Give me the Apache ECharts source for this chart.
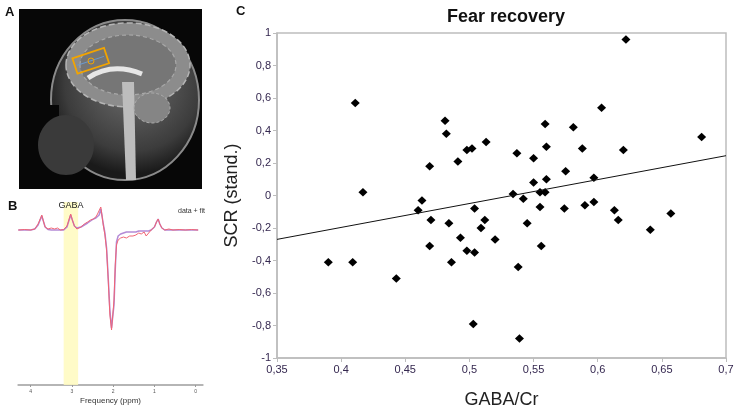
<!DOCTYPE html>
<html>
<head>
<meta charset="utf-8">
<script src="https://cdn.jsdelivr.net/npm/echarts@6/dist/echarts.min.js"></script>
<style>
  html, body { margin: 0; padding: 0; background: #fff; }
  #main { width: 737px; height: 410px; }
</style>
</head>
<body>
<div id="main"></div>
<script>
// panel C: GABA/Cr vs SCR
var gabaX = [0.622, 0.411, 0.603, 0.481, 0.559, 0.581, 0.482, 0.681, 0.513, 0.560,
             0.498, 0.502, 0.588, 0.620, 0.537, 0.550, 0.491, 0.469, 0.575, 0.597,
             0.560, 0.550, 0.417, 0.534, 0.555, 0.559, 0.463, 0.542, 0.460, 0.504,
             0.555, 0.574, 0.590, 0.597, 0.613, 0.657, 0.470, 0.512, 0.616, 0.484,
             0.545, 0.509, 0.641, 0.493, 0.520, 0.469, 0.556, 0.498, 0.504, 0.390,
             0.409, 0.486, 0.538, 0.443, 0.503, 0.539];
var scrY = [0.96, 0.57, 0.54, 0.46, 0.44, 0.42, 0.38, 0.36, 0.33, 0.30,
            0.28, 0.29, 0.29, 0.28, 0.26, 0.23, 0.21, 0.18, 0.15, 0.11,
            0.10, 0.08, 0.02, 0.01, 0.02, 0.02, -0.03, -0.02, -0.09, -0.08,
            -0.07, -0.08, -0.06, -0.04, -0.09, -0.11, -0.15, -0.15, -0.15, -0.17,
            -0.17, -0.20, -0.21, -0.26, -0.27, -0.31, -0.31, -0.34, -0.35, -0.41,
            -0.41, -0.41, -0.44, -0.51, -0.79, -0.88];
// fitted line endpoints
var trendX = [0.35, 0.7];
var trendY = [-0.27, 0.245];

// panel B: spectrum (ppm, data, fit)
var ppm = [4.30, 4.15, 4.00, 3.90, 3.82, 3.78, 3.73, 3.70, 3.65, 3.58,
           3.50, 3.42, 3.35, 3.28, 3.20, 3.12, 3.06, 3.03, 2.99, 2.94,
           2.88, 2.84, 2.78, 2.70, 2.62, 2.55, 2.48, 2.42, 2.38, 2.34,
           2.30, 2.27, 2.24, 2.20, 2.16, 2.12, 2.08, 2.04, 2.01, 1.98,
           1.95, 1.92, 1.88, 1.82, 1.75, 1.68, 1.60, 1.52, 1.45, 1.38,
           1.32, 1.25, 1.20, 1.14, 1.08, 1.00, 0.95, 0.91, 0.87, 0.82,
           0.75, 0.65, 0.55, 0.40, 0.25, 0.10, -0.06];
var specData = [0, 0.5, 0, 1, 6, 10, 15, 10, 3, 1,
                2, 1, 2, 0, 0.5, 4, 12, 16, 10, 4,
                1, 1, 3, 6, 8, 10, 11, 13, 16, 14,
                23, 14, 5, -5, -20, -50, -85, -100, -101, -70,
                -35, -15, -10, -8, -7, -8, -6, -6, -5, -3,
                -4, -2, -6, -3, 0, 3, 8, 11, 6, 2,
                0, 1, 0, 0.5, 0, 0.5, 0];
var specFit = [0, 0, 0, 1, 5, 9, 14, 10, 3, 0.5,
               0, 0, 0, 0, 0, 3, 11, 15, 10, 4,
               2, 1, 3, 5, 7, 9, 11, 12, 13, 15,
               21, 14, 6, -3, -18, -48, -80, -98, -99, -75,
               -40, -12, -6, -4, -3, -2, -2, -2, -2, -1,
               -1, -1, -1, -1, 0, 3, 8, 11, 6, 2,
               0, 0, 0, 0, 0, 0, 0];
var ppmTicks = [0, 1, 2, 3, 4];
var gabaBand = [3.2, 2.85];

function pairs(xs, ys) {
    var Ret = [];
    for (var i = 0; i < xs.length; i++) {
        Ret.push([xs[i], ys[i]]);
    }
    return Ret;
}
function comma(v, d) {
    var s = (+v.toFixed(d)).toString();
    return s.replace('.', ',');
}

var font = 'Liberation Sans, Arial, sans-serif';
var labelColor = '#34274f';
var myChart = echarts.init(document.getElementById('main'));

option = {
    animation: false,
    textStyle: { fontFamily: font },
    grid: [
        { left: 18.3, width: 184.4, top: 202, height: 183, outerBoundsMode: 'none', containLabel: false },
        { left: 277, right: 11, top: 33, bottom: 52, outerBoundsMode: 'none', containLabel: false,
          show: true, borderColor: '#bdbdbd', borderWidth: 1.5 }
    ],
    xAxis: [
        {
            gridIndex: 0, type: 'value', min: -0.17, max: 4.3, inverse: true,
            splitLine: { show: false },
            axisLine: { onZero: false, lineStyle: { color: '#b5b5b5', width: 2 } },
            axisTick: { customValues: ppmTicks, length: 2, lineStyle: { color: '#999' } },
            axisLabel: { customValues: ppmTicks, fontSize: 5, color: '#555', margin: 4 },
            name: 'Frequency (ppm)', nameLocation: 'middle', nameGap: 12,
            nameTextStyle: { fontSize: 8, color: '#333' }
        },
        {
            gridIndex: 1, type: 'value', min: 0.35, max: 0.7, interval: 0.05,
            splitLine: { show: false },
            axisLine: { onZero: false, lineStyle: { color: '#bdbdbd', width: 1.5 } },
            axisTick: { length: 4, lineStyle: { color: '#bdbdbd' } },
            axisLabel: { fontSize: 11, color: labelColor, margin: 6,
                formatter: function (v) { return comma(v, 2); } },
            name: 'GABA/Cr', nameLocation: 'middle', nameGap: 33,
            nameTextStyle: { fontSize: 18, color: '#222' }
        }
    ],
    yAxis: [
        {
            gridIndex: 0, type: 'value', min: -155, max: 28,
            show: false
        },
        {
            gridIndex: 1, type: 'value', min: -1, max: 1, interval: 0.2,
            splitLine: { show: false },
            axisLine: { onZero: false, lineStyle: { color: '#bdbdbd', width: 1.5 } },
            axisTick: { length: 4, lineStyle: { color: '#bdbdbd' } },
            axisLabel: { fontSize: 11, color: labelColor, margin: 6,
                formatter: function (v) { return comma(v, 1); } },
            name: 'SCR (stand.)', nameLocation: 'middle', nameGap: 21,
            nameTextStyle: { fontSize: 18, color: '#222' }
        }
    ],
    title: {
        text: 'Fear recovery', left: 501, top: 3, textAlign: 'center',
        textStyle: { fontSize: 18, fontWeight: 'bold', color: '#111', fontFamily: font }
    },
    graphic: [
        // panel A: MRI picture, drawn roughly
        { type: 'rect', shape: { x: 19, y: 9, width: 183, height: 180 }, style: { fill: '#070707' } },
        { type: 'ellipse', shape: { cx: 125, cy: 100, rx: 74, ry: 80 },
          style: { fill: new echarts.graphic.RadialGradient(0.55, 0.4, 0.6, [
              { offset: 0, color: '#6e6e6e' }, { offset: 0.75, color: '#3c3c3c' }, { offset: 1, color: '#1a1a1a' }]),
              stroke: '#8a8a8a', lineWidth: 2 } },
        { type: 'rect', shape: { x: 19, y: 105, width: 40, height: 84 }, style: { fill: '#070707' } },
        { type: 'ellipse', shape: { cx: 128, cy: 65, rx: 62, ry: 42 },
          style: { fill: '#8c8c8c', stroke: '#b5b5b5', lineWidth: 1.5, lineDash: [6, 3] } },
        { type: 'ellipse', shape: { cx: 128, cy: 65, rx: 48, ry: 30 },
          style: { fill: '#767676', stroke: '#a8a8a8', lineWidth: 1.2, lineDash: [4, 3] } },
        { type: 'bezierCurve', shape: { x1: 88, y1: 78, cpx1: 112, cpy1: 62, x2: 142, y2: 74 },
          style: { fill: 'none', stroke: '#e6e6e6', lineWidth: 5 } },
        { type: 'polygon', shape: { points: [[122, 82], [134, 82], [136, 180], [126, 180]] }, style: { fill: '#bdbdbd' } },
        { type: 'ellipse', shape: { cx: 152, cy: 108, rx: 18, ry: 15 }, style: { fill: '#858585', stroke: '#aaa', lineWidth: 1, lineDash: [3, 2] } },
        { type: 'ellipse', shape: { cx: 66, cy: 145, rx: 28, ry: 30 }, style: { fill: '#3a3a3a' } },
        { type: 'rect', x: 90.7, y: 60.8, rotation: 0.32,
          shape: { x: -16.6, y: -8.1, width: 33.3, height: 16.2 },
          style: { fill: 'none', stroke: '#f2a400', lineWidth: 1.8 } },
        { type: 'line', x: 90.7, y: 60.8, rotation: 0.32,
          shape: { x1: -14, y1: 0, x2: 14, y2: 0 }, style: { stroke: '#6a9ad0', lineWidth: 1 } },
        { type: 'circle', shape: { cx: 91, cy: 61, r: 3 }, style: { fill: 'none', stroke: '#f2a400', lineWidth: 1 } },
        // panel letters and labels
        { type: 'text', x: 5, y: 6, style: { text: 'A', font: 'bold 13px ' + font, fill: '#111' } },
        { type: 'text', x: 8, y: 200, style: { text: 'B', font: 'bold 13px ' + font, fill: '#111' } },
        { type: 'text', x: 236, y: 5, style: { text: 'C', font: 'bold 13px ' + font, fill: '#111' } },
        { type: 'text', x: 71, y: 206, z: 10, style: { text: 'GABA', font: '9px ' + font, fill: '#222', align: 'center', verticalAlign: 'middle' } },
        { type: 'text', x: 178, y: 211, z: 10, style: { text: 'data + fit', font: '7px ' + font, fill: '#333', verticalAlign: 'middle' } }
    ],
    series: [
        {
            type: 'line', xAxisIndex: 0, yAxisIndex: 0, data: pairs(ppm, specFit),
            showSymbol: false, silent: true,
            lineStyle: { color: '#b48ad6', width: 1.5 },
            markArea: {
                silent: true,
                itemStyle: { color: 'rgba(255,250,190,0.85)' },
                data: [[{ xAxis: gabaBand[0] }, { xAxis: gabaBand[1] }]]
            },
            z: 2
        },
        {
            type: 'line', xAxisIndex: 0, yAxisIndex: 0, data: pairs(ppm, specData),
            showSymbol: false, silent: true,
            lineStyle: { color: '#f06474', width: 1 },
            z: 3
        },
        {
            type: 'line', xAxisIndex: 1, yAxisIndex: 1, data: pairs(trendX, trendY),
            showSymbol: false, silent: true,
            lineStyle: { color: '#111', width: 1 }
        },
        {
            type: 'scatter', xAxisIndex: 1, yAxisIndex: 1, data: pairs(gabaX, scrY),
            symbol: 'diamond', symbolSize: [9, 8.5],
            itemStyle: { color: '#000', opacity: 1 }
        }
    ]
};
myChart.setOption(option);
</script>
</body>
</html>
